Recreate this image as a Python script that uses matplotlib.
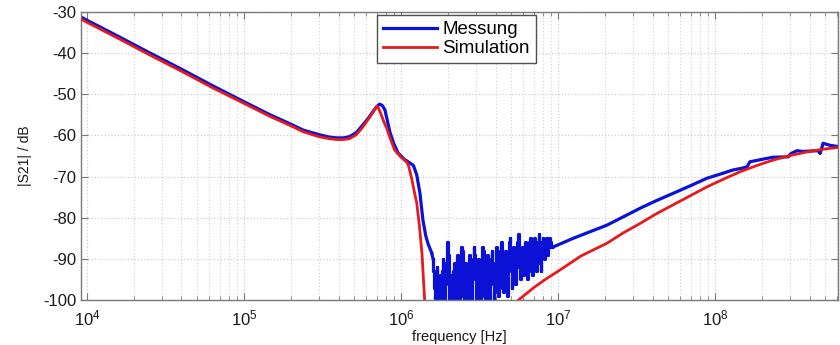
import numpy as np
import matplotlib
matplotlib.use("Agg")
import matplotlib.pyplot as plt
from matplotlib.ticker import LogLocator, FixedLocator

plt.rcParams['font.family'] = ['Liberation Sans', 'DejaVu Sans']
plt.rcParams['mathtext.default'] = 'regular'
plt.rcParams['axes.unicode_minus'] = False

# ---- Messung (measurement), smooth parts ----
meas_f_low = [9.16e3, 1.0e4, 1.58e4, 2.5e4, 4.0e4, 6.3e4, 1.0e5, 1.47e5, 2.0e5, 2.38e5,
              3.0e5, 3.5e5, 3.9e5, 4.3e5, 4.7e5, 5.2e5, 5.7e5, 6.2e5, 6.6e5, 7.0e5,
              7.3e5, 7.6e5, 7.9e5, 8.2e5, 8.5e5, 9.0e5, 9.6e5, 1.05e6, 1.14e6, 1.2e6,
              1.26e6, 1.32e6, 1.38e6, 1.44e6, 1.49e6, 1.57e6]
meas_db_low = [-31.2, -32.0, -35.9, -39.9, -43.9, -47.9, -51.8, -55.0, -57.3, -58.7,
               -59.8, -60.4, -60.6, -60.6, -60.3, -59.3, -57.5, -55.8, -54.3, -53.0,
               -52.4, -52.7, -53.8, -56.5, -59.2, -62.0, -64.3, -65.8, -66.7, -67.3,
               -69.6, -74.0, -80.6, -84.5, -86.4, -88.6]

# noisy floor between ~1.6 MHz and ~9 MHz
meas_noise_db = [
    -90, -93, -97, -101, -99, -95, -92, -96, -101, -102, -97, -94, -99, -101, -93, -90,
    -94, -100, -102, -96, -91, -88, -86, -89, -95, -101, -98, -94, -97, -102, -100, -93,
    -91, -95, -101, -99, -92, -89, -93, -100,
    -102, -96, -90, -87, -88, -92, -99, -101, -95, -91, -93, -100, -102, -97, -92, -89,
    -91, -98, -101, -99, -94, -90, -87, -89, -95, -101, -102, -96, -92, -90, -94, -99,
    -101, -95, -89, -87, -88, -93, -99, -100, -96, -91, -89, -92, -98, -101, -97, -93,
    -90, -88, -91, -96, -100, -98, -93, -89, -87, -90, -95, -99,
    -97, -92, -88, -86, -89, -94, -98, -95, -91, -88, -90, -96, -99, -94, -89, -86,
    -85, -88, -93, -97, -95, -90, -87, -89, -94, -96, -92, -88, -86, -84, -87, -92,
    -95, -93, -89, -87, -90, -94, -92, -88, -86, -87, -91, -95, -93, -89, -86, -85,
    -88, -92, -94, -90, -87, -85, -86, -90, -93, -91, -88, -86, -84, -87, -91, -93,
    -89, -86, -85, -88, -90, -88, -86, -85, -87, -89, -87, -86, -85, -86, -87, -87]
noise_f_start, noise_f_end = 1.6e6, 9.1e6

meas_f_high = [9.3e6, 1.0e7, 1.25e7, 1.6e7, 2.05e7, 2.6e7, 3.33e7, 4.2e7, 5.39e7, 7.0e7,
               8.89e7, 1.1e8, 1.3e8, 1.51e8, 1.6e8, 1.67e8, 2.0e8, 2.34e8, 2.92e8,
               3.05e8, 3.33e8, 3.6e8, 4.0e8, 4.53e8, 4.67e8, 4.88e8, 5.4e8, 6.07e8]
meas_db_high = [-87.1, -86.6, -85.0, -83.4, -81.8, -79.8, -77.7, -75.9, -74.1, -72.2,
                -70.4, -69.3, -68.4, -67.9, -67.6, -66.4, -65.8, -65.3, -65.2,
                -64.4, -63.7, -63.9, -63.8, -63.7, -64.4, -61.9, -62.4, -62.7]

# ---- Simulation ----
sim_f_low = [9.16e3, 1.0e4, 1.58e4, 2.5e4, 4.0e4, 6.3e4, 1.0e5, 1.47e5, 2.0e5, 2.38e5,
             3.0e5, 3.5e5, 3.9e5, 4.3e5, 4.7e5, 5.2e5, 5.7e5, 6.2e5, 6.6e5, 6.85e5,
             7.05e5, 7.2e5, 7.4e5, 7.8e5, 8.1e5, 8.6e5, 9.1e5, 1.0e6, 1.09e6, 1.12e6,
             1.17e6, 1.22e6, 1.26e6, 1.31e6, 1.36e6, 1.39e6, 1.42e6]
sim_db_low = [-31.7, -32.5, -36.4, -40.4, -44.4, -48.4, -52.2, -55.4, -57.7, -59.1,
              -60.3, -60.8, -61.0, -61.0, -60.8, -59.8, -58.0, -56.0, -54.5, -53.5,
              -52.9, -53.4, -54.5, -56.8, -58.2, -61.0, -63.5, -65.3, -66.5, -67.5,
              -70.5, -74.0, -76.4, -82.0, -88.6, -95.0, -101.0]

sim_f_high = [5.2e6, 5.6e6, 7.0e6, 8.3e6, 1.03e7, 1.4e7, 2.05e7, 2.6e7, 3.33e7, 4.2e7,
              5.39e7, 7.0e7, 8.89e7, 1.15e8, 1.45e8, 1.85e8, 2.34e8, 3.0e8, 3.85e8,
              4.8e8, 6.07e8]
sim_db_high = [-102.0, -100.0, -97.0, -95.0, -92.7, -89.3, -86.2, -83.7, -81.4, -79.1,
               -76.9, -74.6, -72.5, -70.5, -68.8, -67.3, -66.0, -64.9, -64.0,
               -63.4, -62.9]

x_ticks = [1e4, 1e5, 1e6, 1e7, 1e8]
y_ticks = [-100, -90, -80, -70, -60, -50, -40, -30]

# ---- build arrays ----
noise_f = np.geomspace(noise_f_start, noise_f_end, len(meas_noise_db))

fig = plt.figure(figsize=(8.4, 3.45), dpi=100)
ax = fig.add_axes([0.0964, 0.1304, 0.9012, 0.8348])

blue = '#0b12d6'
red = '#e41a1c'
lwb, lwr = 2.3, 2.0
ax.plot(sim_f_low, sim_db_low, color=red, lw=lwr, zorder=3, solid_joinstyle='round')
ax.plot(meas_f_low, meas_db_low, color=blue, lw=lwb, zorder=2, solid_joinstyle='round')
ax.plot(noise_f, meas_noise_db, color=blue, lw=lwb, drawstyle='steps-mid', zorder=2)
ax.plot([meas_f_low[-1], noise_f[0]], [meas_db_low[-1], meas_noise_db[0]], color=blue, lw=lwb, zorder=2)
ax.plot([noise_f[-1], meas_f_high[0]], [meas_noise_db[-1], meas_db_high[0]], color=blue, lw=lwb, zorder=2)
ax.plot(meas_f_high, meas_db_high, color=blue, lw=lwb, zorder=2, solid_joinstyle='round')
ax.plot(sim_f_high, sim_db_high, color=red, lw=lwr, zorder=3, solid_joinstyle='round')

# legend proxies
l1, = ax.plot([], [], color=blue, lw=lwb, label='Messung')
l2, = ax.plot([], [], color=red, lw=lwr, label='Simulation')

ax.set_xscale('log')
ax.set_xlim(9.16e3, 6.07e8)
ax.set_ylim(-100, -30)
ax.xaxis.set_major_locator(FixedLocator(x_ticks))
ax.xaxis.set_minor_locator(LogLocator(base=10, subs=np.arange(2, 10), numticks=20))
ax.yaxis.set_major_locator(FixedLocator(y_ticks))

ax.grid(True, which='major', axis='both', color='#cfcfcf', linestyle=':', linewidth=0.9)
ax.grid(True, which='minor', axis='x', color='#d6d6d6', linestyle=':', linewidth=0.9)

for s in ax.spines.values():
    s.set_color('#7a7a7a')
    s.set_linewidth(1.0)
ax.tick_params(which='both', direction='in', top=True, right=True, colors='#7a7a7a',
               labelcolor='#1a1a1a', labelsize=12)
ax.tick_params(which='major', length=5)
ax.tick_params(which='minor', length=3)
ax.tick_params(axis='x', pad=6)

ax.set_xlabel('frequency [Hz]', fontsize=10.5, color='#1a1a1a', labelpad=1)
ax.set_ylabel('|S21| / dB', fontsize=10, color='#1a1a1a', labelpad=8)

leg = ax.legend(handles=[l1, l2], loc='upper left', bbox_to_anchor=(0.391, 0.988),
                fontsize=13.5, frameon=True, fancybox=False, framealpha=1,
                edgecolor='#505050', handlelength=2.9, handletextpad=0.3,
                borderpad=0.3, labelspacing=0.1, borderaxespad=0)
leg.get_frame().set_linewidth(1.0)

fig.savefig('out.png', dpi=100)
